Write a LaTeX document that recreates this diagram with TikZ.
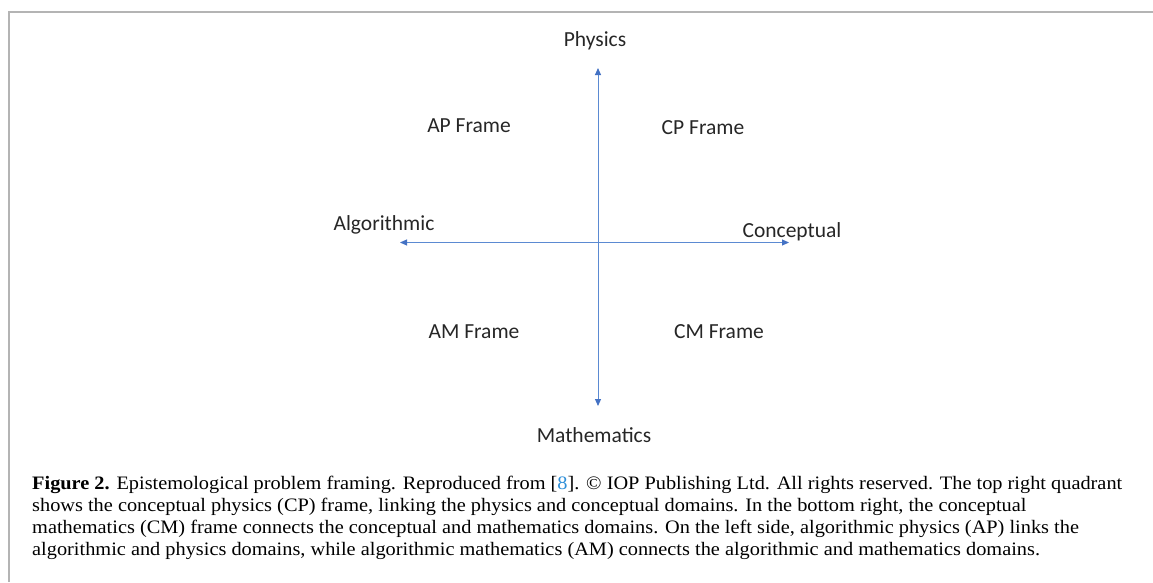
\documentclass[tikz,border=0pt]{standalone}
\usepackage{fontspec}
\setmainfont{Liberation Serif}[FakeStretch=1.07]
\newfontfamily\labelfont{Carlito}
\usetikzlibrary{arrows.meta}
\definecolor{framegray}{HTML}{B4B4B4}
\definecolor{axisblue}{HTML}{5B8AD2}
\definecolor{tipblue}{HTML}{4472C4}
\definecolor{labelgray}{HTML}{262626}
\definecolor{refblue}{HTML}{2F8FD8}
\begin{document}
\begin{tikzpicture}[x=1pt,y=-1pt,
  axis/.style={draw=axisblue, line width=1pt,
    {Triangle[length=7pt,width=6pt,color=tipblue]}-{Triangle[length=7pt,width=6pt,color=tipblue]}},
  lbl/.style={font=\labelfont\fontsize{21.5}{24}\selectfont, text=labelgray,
    anchor=base, inner sep=0pt},
  caption/.style={font=\fontsize{19}{22}\selectfont, anchor=north west,
    align=left, inner sep=0pt, text=black}]
\useasboundingbox (0,0) rectangle (1153,582);

% panel border (top and left edges)
\draw[framegray, line width=1.5pt] (9,582) -- (9,12) -- (1153,12);

% axis end points
\coordinate (ptop) at (598,68);
\coordinate (pbot) at (598,406);
\coordinate (pleft) at (400,242.5);
\coordinate (pright) at (789,242.5);

% axes
\draw[axis] (pbot) -- (ptop);
\draw[axis] (pleft) -- (pright);

% axis labels
\node[lbl] (phys) at (595,46) {Physics};
\node[lbl] (math) at (594,442) {Mathematics};
\node[lbl] (algo) at (384,230) {Algorithmic};
\node[lbl] (conc) at (792,237) {Conceptual};

% quadrant labels
\node[lbl] (ap) at (469,132.5) {AP Frame};
\node[lbl] (cp) at (703,134) {CP Frame};
\node[lbl] (am) at (474,338.5) {AM Frame};
\node[lbl] (cm) at (719,338.5) {CM Frame};

% caption
\node[caption] (cap) at (32,476) {%
\textbf{Figure 2.} Epistemological problem framing. Reproduced from [\textcolor{refblue}{8}]. \textcopyright{} IOP Publishing Ltd. All rights reserved. The top right quadrant\\
shows the conceptual physics (CP) frame, linking the physics and conceptual domains. In the bottom right, the conceptual\\
mathematics (CM) frame connects the conceptual and mathematics domains. On the left side, algorithmic physics (AP) links the\\
algorithmic and physics domains, while algorithmic mathematics (AM) connects the algorithmic and mathematics domains.};
\end{tikzpicture}
\end{document}
